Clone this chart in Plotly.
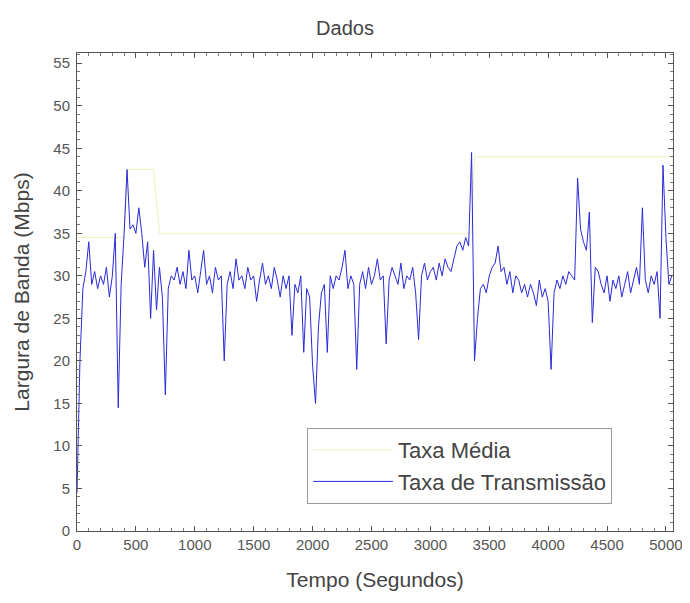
import plotly.graph_objects as go

# Taxa de Transmissão (Mbps), sampled every 25 s from t = 0 to 5050 s
tempo = [i * 25 for i in range(203)]
taxa = [
    4.5, 20, 28.5, 30.5, 34, 29, 30.5, 28.5,
    30, 29, 31, 27.5, 30, 35, 14.5, 29,
    35, 42.5, 35.5, 36, 35, 38, 35, 31,
    34, 25, 33, 26, 31, 27.5, 16, 28.5,
    30, 29.5, 31, 29, 30.5, 28.5, 33, 29.5,
    30, 28, 30.5, 33, 29, 30, 28, 31,
    29.5, 30, 20, 29, 30.5, 28.5, 32, 29.5,
    30, 28.5, 31, 29.5, 30, 27, 29.5, 31.5,
    29, 30, 28.5, 31, 29.5, 27.5, 30, 28.5,
    30, 23, 29, 28, 30, 21, 28.5, 27.5,
    19.5, 15, 24, 28, 29, 21, 30, 28.5,
    30, 29.5, 31, 33, 28.5, 30, 29, 19,
    29, 30.5, 28.5, 31, 29, 30, 32, 29.5,
    30, 22, 29.5, 31, 30, 29, 31.5, 28.5,
    30, 29.5, 31, 28, 22.5, 30, 31.5, 29.5,
    30.5, 31, 29.5, 31.5, 30, 32, 31, 30.5,
    32, 33.5, 34, 33, 34.5, 33.5, 44.5, 20,
    25, 28.5, 29, 28, 30, 31, 31.5, 33.5,
    30.5, 31, 29, 30.5, 28, 30, 29.5, 28,
    29, 27.5, 29, 28, 26.5, 29.5, 27.5, 28.5,
    27, 19, 28, 29.5, 28.5, 30, 29, 30.5,
    30, 29.5, 41.5, 35.5, 34, 33, 37.5, 24.5,
    31, 30.5, 29, 28, 30, 27, 29.5, 28.5,
    30, 27.5, 29, 30.5, 28, 29.5, 31, 29,
    38, 29.5, 28, 30, 29, 30.5, 25, 43,
    34.5, 29, 30,
]

# Taxa Média (faint reference line)
media_t = [0, 400, 425, 650, 700, 3350, 3375, 5050]
media_v = [34.5, 34.5, 42.5, 42.5, 35, 35, 44, 44]

x_ticks = list(range(0, 5001, 500))
y_ticks = list(range(0, 56, 5))

fig = go.Figure()
fig.add_trace(go.Scatter(x=media_t, y=media_v, mode="lines", name="Taxa Média",
                         line=dict(color="#f2efc0", width=1)))
fig.add_trace(go.Scatter(x=tempo, y=taxa, mode="lines", name="Taxa de Transmissão",
                         line=dict(color="#2a2ad8", width=1)))

axis_common = dict(
    showgrid=False, zeroline=False, showline=True, linecolor="#555", linewidth=1,
    mirror="allticks", ticks="inside", ticklen=5, tickcolor="#555",
    tickfont=dict(size=15, color="#555"), automargin=False,
    ticklabeloverflow="allow",
)
fig.update_xaxes(range=[0, 5060], tickvals=x_ticks,
                 title=dict(text="Tempo (Segundos)", font=dict(size=21, color="#444"), standoff=20),
                 minor=dict(ticks="inside", ticklen=3, dtick=100, tickcolor="#777"),
                 **axis_common)
fig.update_yaxes(range=[0, 56.2], tickvals=y_ticks, ticklabelstandoff=3,
                 title=dict(text="Largura de Banda (Mbps)", font=dict(size=21, color="#444"), standoff=17),
                 minor=dict(ticks="inside", ticklen=3, dtick=1, tickcolor="#777"),
                 **axis_common)

fig.update_layout(
    width=674, height=587,
    margin=dict(l=69, r=9, t=45, b=64, autoexpand=False),
    paper_bgcolor="white", plot_bgcolor="white",
    font=dict(family="Liberation Sans, Arial, sans-serif", color="#444"),
    title=dict(text="Dados", x=0.5, xanchor="center", y=0.966, yanchor="middle",
               font=dict(size=20, color="#444")),
    showlegend=True,
    legend=dict(x=0.386, y=0.2155, xanchor="left", yanchor="top",
                bgcolor="white", bordercolor="#999", borderwidth=1,
                font=dict(size=22, color="#444"), itemwidth=80,
                tracegroupgap=0),
)

fig.write_html("out.html")
